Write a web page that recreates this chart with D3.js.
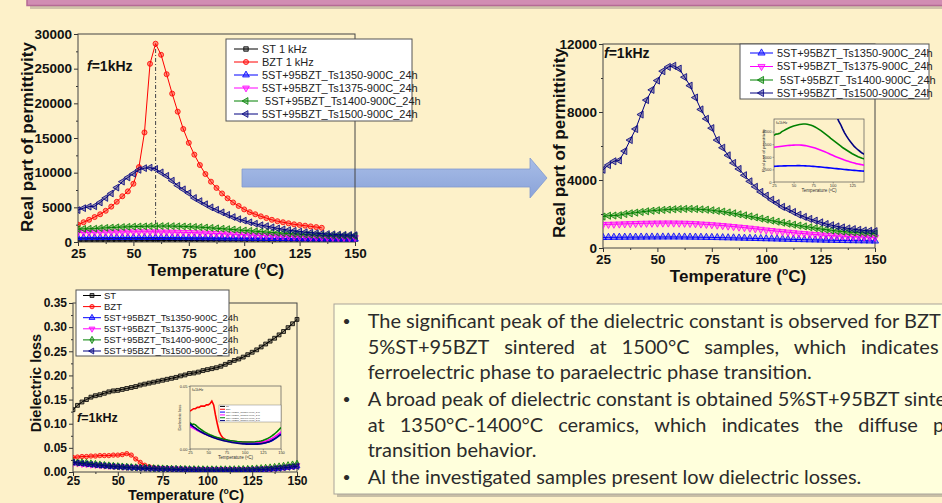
<!DOCTYPE html>
<html>
<head>
<meta charset="utf-8">
<script src="https://cdn.jsdelivr.net/npm/d3@7"></script>
<style>
  html, body { margin: 0; padding: 0; background: #fdf1c9; overflow: hidden; }
</style>
</head>
<body>
<svg id="slide" width="942" height="503"></svg>
<script>
// ---- data ----
const temps = [25, 27.5, 30, 32.5, 35, 37.5, 40, 42.5, 45, 47.5,
  50, 52.5, 55, 57.5, 60, 62.5, 65, 67.5, 70, 72.5,
  75, 77.5, 80, 82.5, 85, 87.5, 90, 92.5, 95, 97.5,
  100, 102.5, 105, 107.5, 110, 112.5, 115, 117.5, 120, 122.5,
  125, 127.5, 130, 132.5, 135, 137.5, 140, 142.5, 145, 147.5, 150];
const tempsBZT = temps.slice(0, 45); // BZT stops at 135 C

const xTicks = [25, 50, 75, 100, 125, 150];

// real part of permittivity, 1 kHz
const permST = [170, 172, 175, 176, 179, 181, 183, 186, 188, 190,
  192, 195, 197, 199, 201, 203, 206, 208, 210, 212,
  214, 216, 218, 221, 223, 225, 227, 229, 231, 233,
  236, 238, 240, 242, 244, 246, 248, 250, 252, 254,
  256, 258, 260, 262, 264, 266, 268, 270, 272, 274, 276];
const permBZT = [2500, 2850, 3200, 3600, 4000, 4500, 5100, 5800, 6600, 7300,
  8400, 10800, 15800, 25700, 28600, 27000, 24200, 21400, 18800, 16300,
  14300, 12600, 11100, 9800, 8700, 7800, 7000, 6300, 5700, 5200,
  4700, 4300, 4000, 3700, 3450, 3200, 3000, 2850, 2700, 2550,
  2450, 2350, 2250, 2150, 2050];
const perm1350 = [620, 625, 630, 633, 636, 638, 640, 642, 644, 645,
  646, 647, 648, 648, 646, 644, 641, 637, 632, 627,
  621, 615, 608, 601, 594, 586, 578, 570, 562, 554,
  546, 538, 530, 522, 514, 506, 498, 490, 482, 475,
  468, 461, 455, 449, 443, 437, 431, 426, 421, 416, 411];
const perm1375 = [1380, 1390, 1400, 1410, 1420, 1430, 1440, 1450, 1455, 1460,
  1465, 1468, 1470, 1468, 1462, 1455, 1445, 1430, 1410, 1390,
  1370, 1345, 1320, 1290, 1260, 1230, 1200, 1165, 1130, 1095,
  1060, 1025, 990, 960, 930, 900, 870, 845, 820, 795,
  770, 750, 730, 715, 700, 685, 670, 660, 650, 640, 630];
const perm1400 = [1850, 1900, 1910, 1930, 2000, 2040, 2080, 2120, 2160, 2190,
  2220, 2240, 2260, 2280, 2290, 2300, 2300, 2290, 2270, 2250,
  2220, 2180, 2140, 2090, 2040, 1980, 1920, 1860, 1800, 1730,
  1670, 1610, 1550, 1490, 1430, 1370, 1320, 1270, 1220, 1170,
  1120, 1080, 1040, 1000, 970, 940, 920, 900, 880, 865, 850];
const perm1500 = [4600, 4880, 5100, 5150, 5700, 6350, 7000, 7850, 8700, 9300,
  9850, 10400, 10650, 10720, 10550, 10050, 9550, 8850, 8150, 7600,
  7050, 6350, 5900, 5450, 5000, 4650, 4280, 3920, 3600, 3300,
  3080, 2840, 2640, 2420, 2290, 2120, 1960, 1830, 1710, 1610,
  1510, 1410, 1340, 1270, 1210, 1150, 1110, 1070, 1030, 1010, 990];

// dielectric loss, 1 kHz
const lossST = [0.129, 0.138, 0.145, 0.150, 0.155, 0.158, 0.160, 0.163, 0.166, 0.168,
  0.169, 0.171, 0.173, 0.175, 0.177, 0.180, 0.182, 0.184, 0.186, 0.188,
  0.190, 0.192, 0.194, 0.196, 0.199, 0.201, 0.204, 0.205, 0.207, 0.210,
  0.212, 0.214, 0.216, 0.219, 0.223, 0.227, 0.231, 0.234, 0.238, 0.243,
  0.248, 0.253, 0.259, 0.265, 0.271, 0.277, 0.284, 0.291, 0.299, 0.307, 0.316];
const lossBZT = [0.030, 0.031, 0.032, 0.032, 0.033, 0.033, 0.034, 0.034, 0.034, 0.035,
  0.035, 0.036, 0.038, 0.035, 0.027, 0.020, 0.014, 0.011, 0.009, 0.008,
  0.007, 0.0065, 0.006, 0.006, 0.006, 0.0058, 0.0056, 0.0055, 0.0055, 0.0054,
  0.0053, 0.0052, 0.0052, 0.0051, 0.0051, 0.0050, 0.0050, 0.0050, 0.0051, 0.0052,
  0.0053, 0.0055, 0.0057, 0.0060, 0.0062];
const loss1350 = [0.0190, 0.0180, 0.0170, 0.0160, 0.0150, 0.0142, 0.0135, 0.0128, 0.0120, 0.0115,
  0.0110, 0.0105, 0.0100, 0.0095, 0.0090, 0.0086, 0.0082, 0.0078, 0.0075, 0.0071,
  0.0068, 0.0065, 0.0062, 0.0060, 0.0057, 0.0055, 0.0052, 0.0050, 0.0048, 0.0046,
  0.0045, 0.0044, 0.0043, 0.0042, 0.0042, 0.0042, 0.0042, 0.0042, 0.0043, 0.0044,
  0.0046, 0.0048, 0.0051, 0.0055, 0.0060, 0.0066, 0.0074, 0.0084, 0.0095, 0.0108, 0.0122];
const loss1375 = [0.0180, 0.0172, 0.0164, 0.0156, 0.0148, 0.0141, 0.0134, 0.0127, 0.0121, 0.0115,
  0.0110, 0.0105, 0.0100, 0.0096, 0.0092, 0.0088, 0.0084, 0.0080, 0.0077, 0.0074,
  0.0071, 0.0068, 0.0066, 0.0064, 0.0062, 0.0060, 0.0058, 0.0056, 0.0055, 0.0054,
  0.0053, 0.0052, 0.0052, 0.0052, 0.0052, 0.0052, 0.0053, 0.0054, 0.0055, 0.0057,
  0.0059, 0.0062, 0.0066, 0.0071, 0.0077, 0.0084, 0.0092, 0.0102, 0.0112, 0.0123, 0.0135];
const loss1400 = [0.0210, 0.0195, 0.0198, 0.0192, 0.0178, 0.0166, 0.0155, 0.0145, 0.0136, 0.0128,
  0.0120, 0.0113, 0.0107, 0.0101, 0.0096, 0.0091, 0.0087, 0.0083, 0.0079, 0.0076,
  0.0073, 0.0070, 0.0067, 0.0065, 0.0063, 0.0061, 0.0059, 0.0058, 0.0057, 0.0056,
  0.0055, 0.0055, 0.0055, 0.0055, 0.0055, 0.0056, 0.0057, 0.0059, 0.0061, 0.0064,
  0.0068, 0.0073, 0.0079, 0.0086, 0.0094, 0.0104, 0.0115, 0.0127, 0.0140, 0.0155, 0.0170];
const loss1500 = [0.0200, 0.0188, 0.0176, 0.0165, 0.0155, 0.0146, 0.0137, 0.0129, 0.0121, 0.0114,
  0.0107, 0.0101, 0.0095, 0.0090, 0.0085, 0.0080, 0.0076, 0.0072, 0.0068, 0.0064,
  0.0061, 0.0058, 0.0055, 0.0052, 0.0050, 0.0048, 0.0046, 0.0044, 0.0042, 0.0041,
  0.0040, 0.0039, 0.0038, 0.0038, 0.0038, 0.0038, 0.0038, 0.0039, 0.0040, 0.0042,
  0.0044, 0.0047, 0.0051, 0.0056, 0.0062, 0.0069, 0.0077, 0.0086, 0.0096, 0.0106, 0.0115];

const namesPerm = ['ST 1 kHz', 'BZT 1 kHz', '5ST+95BZT_Ts1350-900C_24h',
  '5ST+95BZT_Ts1375-900C_24h', ' 5ST+95BZT_Ts1400-900C_24h', '5ST+95BZT_Ts1500-900C_24h'];
const namesRight = ['5ST+95BZT_Ts1350-900C_24h', '5ST+95BZT_Ts1375-900C_24h',
  ' 5ST+95BZT_Ts1400-900C_24h', '5ST+95BZT_Ts1500-900C_24h'];
const namesLoss = ['ST', 'BZT', '5ST+95BZT_Ts1350-900C_24h', '5ST+95BZT_Ts1375-900C_24h',
  '5ST+95BZT_Ts1400-900C_24h', '5ST+95BZT_Ts1500-900C_24h'];

const bullets = [
  'The significant peak of the dielectric constant is observed for BZT',
  '5%ST+95BZT sintered at 1500°C samples, which indicates the',
  'ferroelectric phase to paraelectric phase transition.',
  'A broad peak of dielectric constant is obtained 5%ST+95BZT sintered',
  'at 1350°C-1400°C ceramics, which indicates the diffuse phase',
  'transition behavior.',
  'Al the investigated samples present low dielectric losses.'
];

// ---- drawing ----
const AX = '"Liberation Sans", Arial, sans-serif';
const svg = d3.select('#slide');
const defs = svg.append('defs');

svg.append('rect').attr('width', 942).attr('height', 503).attr('fill', '#fdf1c9');

// title bar peeking in at the top
svg.append('rect').attr('x', 30).attr('y', -10).attr('width', 940).attr('height', 19)
  .attr('fill', '#a3958a').attr('opacity', 0.5);
svg.append('rect').attr('x', 27).attr('y', -10).attr('width', 940).attr('height', 15.5)
  .attr('fill', '#d18db3').attr('stroke', '#b56a95').attr('stroke-width', 1.5);

// block arrow between the two permittivity plots
const ag = defs.append('linearGradient').attr('id', 'arrowGrad')
  .attr('x1', 0).attr('y1', 0).attr('x2', 0).attr('y2', 1);
ag.append('stop').attr('offset', 0).attr('stop-color', '#a8bde7');
ag.append('stop').attr('offset', 1).attr('stop-color', '#8aa3d9');
svg.append('path')
  .attr('d', 'M242,169 L530,169 L530,158 L547,178 L530,198 L530,187 L242,187 Z')
  .attr('fill', 'url(#arrowGrad)').attr('stroke', '#8099cf').attr('stroke-width', 0.8);

const symTri = d3.symbolTriangle;
function markerPath(s, size) { return d3.symbol(s.sym, size)(); }

function tempLabel(sel, cx, y, size) {
  const t = sel.append('text').attr('x', cx).attr('y', y).attr('text-anchor', 'middle')
    .attr('font-family', AX).attr('font-weight', 'bold').attr('font-size', size).attr('fill', '#111');
  t.append('tspan').text('Temperature (');
  t.append('tspan').attr('font-size', size * 0.6).attr('dy', -size * 0.4).text('o');
  t.append('tspan').attr('dy', size * 0.4).text('C)');
  return t;
}

function fLabel(sel, x, y, size) {
  const t = sel.append('text').attr('x', x).attr('y', y).attr('font-family', AX)
    .attr('font-weight', 'bold').attr('font-size', size).attr('fill', '#111');
  t.append('tspan').attr('font-style', 'italic').text('f');
  t.append('tspan').text('=1kHz');
}

function drawChart(c) {
  const g = svg.append('g');
  const x = d3.scaleLinear().domain(c.xDomain).range([c.x0, c.x1]);
  const y = d3.scaleLinear().domain(c.yDomain).range([c.y1, c.y0]);

  defs.append('clipPath').attr('id', 'clip-' + c.id).append('rect')
    .attr('x', c.x0).attr('y', c.y0 - 4).attr('width', c.x1 - c.x0 + 4).attr('height', c.y1 - c.y0 + 4);

  // axes: major ticks with labels, minor ticks between
  const styleAxis = a => {
    a.select('.domain').remove();
    a.selectAll('line').attr('stroke', '#333');
    a.selectAll('text').attr('font-family', AX).attr('font-weight', 'bold')
      .attr('font-size', c.tickFont).attr('fill', '#111');
  };
  const xMinor = c.xTicks.slice(1).map((v, i) => (v + c.xTicks[i]) / 2);
  const yMinor = c.yTicks.slice(1).map((v, i) => (v + c.yTicks[i]) / 2);
  g.append('g').attr('transform', `translate(0,${c.y1})`)
    .call(d3.axisBottom(x).tickValues(c.xTicks).tickSize(4).tickPadding(c.xPad).tickSizeOuter(0))
    .call(styleAxis);
  g.append('g').attr('transform', `translate(0,${c.y1})`)
    .call(d3.axisBottom(x).tickValues(xMinor).tickSize(2).tickFormat(''))
    .call(styleAxis);
  g.append('g').attr('transform', `translate(${c.x0},0)`)
    .call(d3.axisLeft(y).tickValues(c.yTicks).tickSize(4).tickPadding(2).tickSizeOuter(0)
      .tickFormat(c.yFormat))
    .call(styleAxis);
  g.append('g').attr('transform', `translate(${c.x0},0)`)
    .call(d3.axisLeft(y).tickValues(yMinor).tickSize(2).tickFormat(''))
    .call(styleAxis);

  g.append('rect').attr('x', c.x0).attr('y', c.y0).attr('width', c.x1 - c.x0)
    .attr('height', c.y1 - c.y0).attr('fill', 'none').attr('stroke', '#444').attr('stroke-width', 1);

  const plot = g.append('g').attr('clip-path', `url(#clip-${c.id})`);
  if (c.peakLine) {
    plot.append('line').attr('x1', x(c.peakLine[0])).attr('x2', x(c.peakLine[0]))
      .attr('y1', y(0)).attr('y2', y(c.peakLine[1]))
      .attr('stroke', '#555').attr('stroke-width', 1.1).attr('stroke-dasharray', '4,2,1,2');
  }
  const line = d3.line().x(d => x(d[0])).y(d => y(d[1]));
  c.series.forEach(s => {
    const pts = s.y.map((v, i) => [s.x[i], v]);
    plot.append('path').datum(pts).attr('d', line).attr('fill', 'none')
      .attr('stroke', s.color).attr('stroke-width', 1);
    plot.selectAll(null).data(pts).join('path')
      .attr('d', markerPath(s, c.markerSize))
      .attr('transform', d => `translate(${x(d[0])},${y(d[1])}) rotate(${s.rot})`)
      .attr('fill', s.color).attr('fill-opacity', 0.4)
      .attr('stroke', s.color).attr('stroke-width', 0.8);
  });

  // axis titles
  svg.append('text').attr('transform', `translate(${c.yLab[0]},${c.yLab[1]}) rotate(-90)`)
    .attr('text-anchor', 'middle').attr('font-family', AX).attr('font-weight', 'bold')
    .attr('font-size', c.labFont).attr('fill', '#111').text(c.yTitle);
  tempLabel(svg, c.xLab[0], c.xLab[1], c.labFont);
  fLabel(svg, c.fPos[0], c.fPos[1], c.fFont);

  // legend
  const L = c.legend;
  const lg = svg.append('g');
  lg.append('rect').attr('x', L.x0).attr('y', L.y0).attr('width', L.x1 - L.x0).attr('height', L.y1 - L.y0)
    .attr('fill', '#fff').attr('stroke', '#555').attr('stroke-width', 1);
  c.series.forEach((s, i) => {
    const yy = L.rows[i];
    lg.append('line').attr('x1', L.lx0).attr('x2', L.lx1).attr('y1', yy).attr('y2', yy)
      .attr('stroke', s.color).attr('stroke-width', 1);
    lg.append('path').attr('d', markerPath(s, c.markerSize))
      .attr('transform', `translate(${(L.lx0 + L.lx1) / 2},${yy}) rotate(${s.rot})`)
      .attr('fill', s.color).attr('fill-opacity', 0.4).attr('stroke', s.color).attr('stroke-width', 0.8);
    lg.append('text').attr('x', L.tx).attr('y', yy).attr('dy', '0.35em')
      .attr('font-family', AX).attr('font-size', L.font).attr('fill', '#222')
      .attr('xml:space', 'preserve').style('white-space', 'pre').text(s.name);
  });
  return { x, y };
}

function drawInset(c) {
  const g = svg.append('g');
  const x = d3.scaleLinear().domain(c.xDomain).range([c.x0, c.x1]);
  const y = d3.scaleLinear().domain(c.yDomain).range([c.y1, c.y0]);
  defs.append('clipPath').attr('id', 'clip-' + c.id).append('rect')
    .attr('x', c.x0).attr('y', c.y0).attr('width', c.x1 - c.x0).attr('height', c.y1 - c.y0);
  const styleAxis = a => {
    a.select('.domain').remove();
    a.selectAll('line').attr('stroke', '#555').attr('stroke-width', 0.5);
    a.selectAll('text').attr('font-family', AX).attr('font-size', 4).attr('fill', '#333');
  };
  g.append('g').attr('transform', `translate(0,${c.y1})`)
    .call(d3.axisBottom(x).tickValues(c.xTicks).tickSize(1.5).tickPadding(1).tickSizeOuter(0)).call(styleAxis);
  g.append('g').attr('transform', `translate(${c.x0},0)`)
    .call(d3.axisLeft(y).tickValues(c.yTicks).tickSize(1.5).tickPadding(1).tickSizeOuter(0)
      .tickFormat(c.yFormat)).call(styleAxis);
  g.append('rect').attr('x', c.x0).attr('y', c.y0).attr('width', c.x1 - c.x0)
    .attr('height', c.y1 - c.y0).attr('fill', 'none').attr('stroke', '#555').attr('stroke-width', 0.7);
  const plot = g.append('g').attr('clip-path', `url(#clip-${c.id})`);
  const line = d3.line().x(d => x(d[0])).y(d => y(d[1]));
  c.series.forEach(s => {
    plot.append('path').datum(s.y.map((v, i) => [s.x[i], v])).attr('d', line)
      .attr('fill', 'none').attr('stroke', s.color).attr('stroke-width', 1.6);
  });
  g.append('text').attr('transform', `translate(${c.x0 - 9},${(c.y0 + c.y1) / 2}) rotate(-90)`)
    .attr('text-anchor', 'middle').attr('font-family', AX).attr('font-size', 4.2).attr('fill', '#333')
    .text(c.yTitle);
  const t = g.append('text').attr('x', (c.x0 + c.x1) / 2).attr('y', c.y1 + 10).attr('text-anchor', 'middle')
    .attr('font-family', AX).attr('font-size', 4.6).attr('fill', '#333');
  t.append('tspan').text('Temperature (');
  t.append('tspan').attr('dy', -1.5).attr('font-size', 3).text('o');
  t.append('tspan').attr('dy', 1.5).text('C)');
  g.append('text').attr('x', c.x0 + 2).attr('y', c.y0 + 5).attr('font-family', AX)
    .attr('font-size', 3.6).attr('fill', '#333').text('f=1kHz');
  if (c.legend) {
    const L = c.legend;
    g.append('rect').attr('x', L.x0).attr('y', L.y0).attr('width', L.x1 - L.x0).attr('height', L.y1 - L.y0)
      .attr('fill', '#fff').attr('stroke', '#666').attr('stroke-width', 0.4);
    const step = (L.y1 - L.y0) / L.items.length;
    L.items.forEach((s, i) => {
      const yy = L.y0 + step * (i + 0.5);
      g.append('line').attr('x1', L.x0 + 1).attr('x2', L.x0 + 6).attr('y1', yy).attr('y2', yy)
        .attr('stroke', s.color).attr('stroke-width', 1);
      g.append('text').attr('x', L.x0 + 7).attr('y', yy).attr('dy', '0.35em')
        .attr('font-family', AX).attr('font-size', 2.4).attr('fill', '#444').text(s.name);
    });
  }
}

const fmtInt = d3.format('d');

// top-left: all six samples
const permSeries = [
  { name: namesPerm[0], x: temps, y: permST, color: '#000000', sym: d3.symbolSquare, rot: 0 },
  { name: namesPerm[1], x: tempsBZT, y: permBZT, color: '#ff0000', sym: d3.symbolCircle, rot: 0 },
  { name: namesPerm[2], x: temps, y: perm1350, color: '#0000ff', sym: symTri, rot: 0 },
  { name: namesPerm[3], x: temps, y: perm1375, color: '#ff00ff', sym: symTri, rot: 180 },
  { name: namesPerm[4], x: temps, y: perm1400, color: '#008000', sym: symTri, rot: -90 },
  { name: namesPerm[5], x: temps, y: perm1500, color: '#000080', sym: symTri, rot: -90 }
];
drawChart({
  id: 'tl', x0: 78, x1: 355, y0: 34, y1: 242,
  xDomain: [25, 150], yDomain: [0, 30000], xTicks: xTicks, xPad: 2,
  yTicks: [0, 5000, 10000, 15000, 20000, 25000, 30000], yFormat: fmtInt,
  tickFont: 13.5, labFont: 17, markerSize: 20,
  yTitle: 'Real part of permittivity', yLab: [33, 137], xLab: [216, 276],
  fPos: [87, 71], fFont: 14,
  peakLine: [60, 28600],
  series: permSeries,
  legend: { x0: 226, x1: 412, y0: 39, y1: 121, rows: [49, 62, 75, 88, 101, 114],
    lx0: 234, lx1: 258, tx: 262, font: 11 }
});

// top-right: the four composite samples
const rightSeries = [
  { name: namesRight[0], x: temps, y: perm1350, color: '#0000ff', sym: symTri, rot: 0 },
  { name: namesRight[1], x: temps, y: perm1375, color: '#ff00ff', sym: symTri, rot: 180 },
  { name: namesRight[2], x: temps, y: perm1400, color: '#008000', sym: symTri, rot: -90 },
  { name: namesRight[3], x: temps, y: perm1500, color: '#000080', sym: symTri, rot: -90 }
];
drawChart({
  id: 'tr', x0: 603, x1: 875, y0: 44, y1: 248,
  xDomain: [25, 150], yDomain: [0, 12000], xTicks: xTicks, xPad: 2,
  yTicks: [0, 4000, 8000, 12000], yFormat: fmtInt,
  tickFont: 13.5, labFont: 17, markerSize: 22,
  yTitle: 'Real part of permittivity', yLab: [565, 143], xLab: [738, 282],
  fPos: [604, 58], fFont: 14,
  series: rightSeries,
  legend: { x0: 740, x1: 929, y0: 44, y1: 99, rows: [53, 66.5, 80, 93],
    lx0: 750, lx1: 773, tx: 777, font: 11 }
});
drawInset({
  id: 'tri', x0: 774, x1: 864, y0: 119, y1: 182,
  xDomain: [25, 140], yDomain: [0, 2500], xTicks: [25, 50, 75, 100, 125],
  yTicks: [0, 500, 1000, 1500, 2000], yFormat: fmtInt,
  yTitle: 'Real part of permittivity',
  series: rightSeries
});

// bottom-left: dielectric loss
const lossSeries = [
  { name: namesLoss[0], x: temps, y: lossST, color: '#000000', sym: d3.symbolSquare, rot: 0 },
  { name: namesLoss[1], x: tempsBZT, y: lossBZT, color: '#ff0000', sym: d3.symbolCircle, rot: 0 },
  { name: namesLoss[2], x: temps, y: loss1350, color: '#0000ff', sym: symTri, rot: 0 },
  { name: namesLoss[3], x: temps, y: loss1375, color: '#ff00ff', sym: symTri, rot: 180 },
  { name: namesLoss[4], x: temps, y: loss1400, color: '#008000', sym: d3.symbolDiamond, rot: 0 },
  { name: namesLoss[5], x: temps, y: loss1500, color: '#000080', sym: symTri, rot: -90 }
];
drawChart({
  id: 'bl', x0: 73, x1: 297, y0: 303, y1: 472,
  xDomain: [25, 150], yDomain: [0, 0.35], xTicks: xTicks, xPad: 0,
  yTicks: [0, 0.05, 0.10, 0.15, 0.20, 0.25, 0.30, 0.35], yFormat: d3.format('.2f'),
  tickFont: 12, labFont: 14.5, markerSize: 15,
  yTitle: 'Dielectric loss', yLab: [41, 383], xLab: [186, 499.5],
  fPos: [77, 422], fFont: 12.5,
  series: lossSeries,
  legend: { x0: 76, x1: 229, y0: 290, y1: 356,
    rows: [295.5, 306.6, 317.7, 328.8, 339.9, 351], lx0: 83, lx1: 101, tx: 104, font: 9.5 }
});
drawInset({
  id: 'bli', x0: 190, x1: 281, y0: 386, y1: 449,
  xDomain: [25, 150], yDomain: [0, 0.05], xTicks: xTicks,
  yTicks: [0, 0.05], yFormat: d3.format('.2f'),
  yTitle: 'Dielectric loss',
  series: lossSeries,
  legend: { x0: 219, x1: 281, y0: 405, y1: 422, items: lossSeries }
});

// ---- text box ----
const TX = 'Lato, "Open Sans", sans-serif';
svg.append('rect').attr('x', 337).attr('y', 307).attr('width', 640).attr('height', 190)
  .attr('fill', '#9d9588').attr('opacity', 0.55);
svg.append('rect').attr('x', 334).attr('y', 304).attr('width', 640).attr('height', 190)
  .attr('fill', '#ffffdc').attr('stroke', '#a9a49a').attr('stroke-width', 1);

const tb = svg.append('g').attr('font-family', TX).attr('fill', '#2b2b2b');
// fit the font to the one fully visible unjustified line
const probe = tb.append('text').attr('font-size', 20).text(bullets[6]);
const fs = 20 * 494 / probe.node().getComputedTextLength();
probe.remove();
tb.attr('font-size', fs);

const baselines = [328, 353.7, 379.3, 406.3, 431.6, 457.3, 484];
const startX = 367.7;
[0, 3, 6].forEach(i => tb.append('text').attr('x', 342.5).attr('y', baselines[i] - 2)
  .attr('font-size', fs * 0.7).text('•'));

function justify(i, anchorIdx, anchorX) {
  const words = bullets[i].split(' ');
  const widths = words.map(w => {
    const t = tb.append('text').text(w);
    const wd = t.node().getComputedTextLength();
    t.remove();
    return wd;
  });
  const gap = (anchorX - startX - d3.sum(widths.slice(0, anchorIdx))) / anchorIdx;
  let xx = startX;
  words.forEach((w, k) => {
    tb.append('text').attr('x', xx).attr('y', baselines[i]).text(w);
    xx += widths[k] + gap;
  });
}
bullets.forEach((s, i) => {
  if (i === 1) justify(1, 6, 861);
  else if (i === 4) justify(4, 7, 933);
  else tb.append('text').attr('x', startX).attr('y', baselines[i]).text(s);
});
</script>
</body>
</html>
